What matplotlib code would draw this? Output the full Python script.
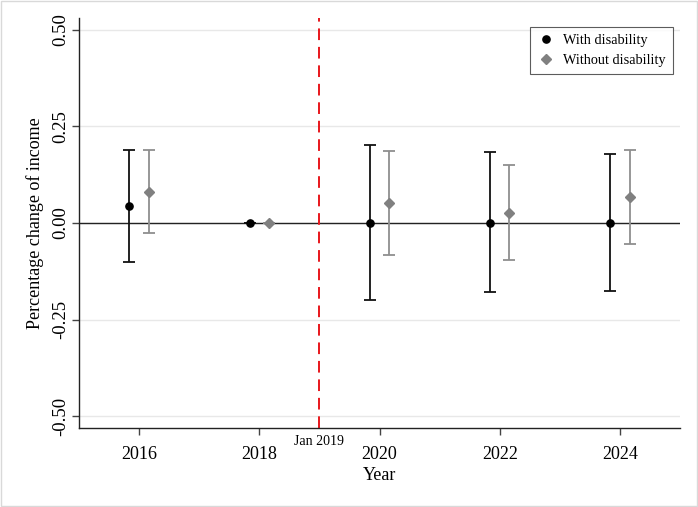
import matplotlib.pyplot as plt
from matplotlib.patches import Rectangle

plt.rcParams['font.family'] = ['Liberation Serif', 'DejaVu Serif']

years = [2016, 2018, 2020, 2022, 2024]

# Point estimates and 95% CI bounds
with_est = [0.043, 0.0, 0.001, 0.001, 0.0]
with_lo = [-0.101, 0.0, -0.199, -0.178, -0.176]
with_hi = [0.189, 0.0, 0.202, 0.183, 0.178]

without_est = [0.081, 0.0, 0.051, 0.027, 0.067]
without_lo = [-0.026, 0.0, -0.083, -0.096, -0.055]
without_hi = [0.189, 0.0, 0.185, 0.151, 0.189]

y_ticks = [-0.50, -0.25, 0.00, 0.25, 0.50]
policy_date = 2019.0
offset = 0.16

fig = plt.figure(figsize=(6.98, 5.07), dpi=100)
ax = fig.add_axes([0.1132, 0.1558, 0.861, 0.8087])

# Light outer frame like the Stata graph region
fig.patches.append(Rectangle((0.001, 0.001), 0.997, 0.997, transform=fig.transFigure,
                             fill=False, ec='#d9d9d9', lw=1.0))

for y in y_ticks:
    ax.axhline(y, color='#e8e8e8', lw=1.0, zorder=0)
ax.axhline(0, color='#222222', lw=1.0, zorder=1)
ax.axvline(policy_date, color='#e8161b', lw=1.4, ls=(0, (6, 3.5)), zorder=1)

x_with = [y - offset for y in years]
x_without = [y + offset for y in years]

err_with = [[e - lo for e, lo in zip(with_est, with_lo)], [hi - e for e, hi in zip(with_est, with_hi)]]
err_without = [[e - lo for e, lo in zip(without_est, without_lo)], [hi - e for e, hi in zip(without_est, without_hi)]]

ax.errorbar(x_with, with_est, yerr=err_with, fmt='none', ecolor='#111111', elinewidth=1.3,
            capsize=4.5, capthick=1.3, zorder=2)
ax.errorbar(x_without, without_est, yerr=err_without, fmt='none', ecolor='#8f8f8f', elinewidth=1.3,
            capsize=4.5, capthick=1.3, zorder=2)
ax.plot(x_with, with_est, 'o', color='black', ms=5.2, label='With disability', zorder=3)
ax.plot(x_without, without_est, 'D', color='#808080', ms=5.6, label='Without disability', zorder=3)

ax.set_xlim(2015, 2025)
ax.set_ylim(-0.53, 0.53)
ax.set_xticks(years)
ax.set_xticklabels([str(y) for y in years], fontsize=13)
ax.set_yticks(y_ticks)
ax.set_yticklabels(['{:.2f}'.format(v) for v in y_ticks], fontsize=13.5, rotation=90, va='center')
ax.tick_params(axis='x', length=5, width=1, color='#444444', pad=8)
ax.tick_params(axis='y', length=5, width=1, color='#444444', pad=2)

for side in ['top', 'right']:
    ax.spines[side].set_visible(False)
for side in ['left', 'bottom']:
    ax.spines[side].set_color('#222222')
    ax.spines[side].set_linewidth(1.0)

ax.text(policy_date, -0.547, 'Jan 2019', ha='center', va='top', fontsize=10)

ax.set_xlabel('Year', fontsize=13, labelpad=3)
ax.set_ylabel('Percentage change of income', fontsize=13, labelpad=6)

leg = ax.legend(loc='upper right', bbox_to_anchor=(0.988, 0.978), borderaxespad=0, fontsize=10.3,
                frameon=True, fancybox=False, edgecolor='#333333', handletextpad=0.6, borderpad=0.5,
                handlelength=1.2, labelspacing=0.45)
leg.get_frame().set_linewidth(0.8)

fig.savefig('out.png', dpi=100)
